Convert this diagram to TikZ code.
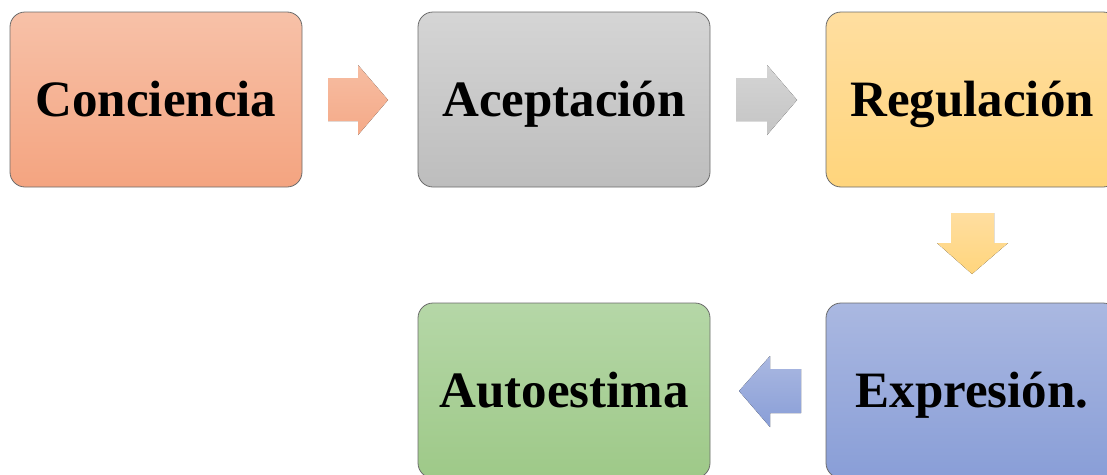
\documentclass[tikz,border=0pt]{standalone}
\usepackage{fontspec}
\setmainfont{Liberation Serif}
\begin{document}
\begin{tikzpicture}[x=1pt,y=-1pt,
  stagebox/.style={draw=black!58, line width=0.8pt, rounded corners=15pt,
    minimum width=292pt, minimum height=175pt, inner sep=0pt,
    text height=40pt, text depth=7pt,
    font=\fontsize{51}{58}\selectfont\bfseries, text=black},
  blockarrow/.style={draw=none}
]
\definecolor{c1t}{HTML}{F7C1A8}\definecolor{c1b}{HTML}{F4A480}
\definecolor{c2t}{HTML}{D5D5D5}\definecolor{c2b}{HTML}{BDBDBD}
\definecolor{c3t}{HTML}{FFDEA0}\definecolor{c3b}{HTML}{FFD57C}
\definecolor{c4t}{HTML}{AAB8E1}\definecolor{c4b}{HTML}{899ED7}
\definecolor{c5t}{HTML}{B5D7A7}\definecolor{c5b}{HTML}{9EC988}
\useasboundingbox (0,0) rectangle (1107,474);
\node[stagebox, top color=c1t, bottom color=c1b] (conc) at (156,99.5) {Conciencia};
\node[stagebox, top color=c2t, bottom color=c2b] (acep) at (564,99.5) {Aceptación};
\node[stagebox, top color=c3t, bottom color=c3b] (regu) at (972,99.5) {Regulación};
\node[stagebox, top color=c4t, bottom color=c4b] (expr) at (972,390.5) {Expresión.};
\node[stagebox, top color=c5t, bottom color=c5b] (auto) at (564,390.5) {Autoestima};
% block arrows
\fill[blockarrow, top color=c1t!85!c1b, bottom color=c1b!80!c1t]
  (328,78) -- (358,78) -- (358,65) -- (388,100) -- (358,135) -- (358,121) -- (328,121) -- cycle;
\fill[blockarrow, top color=c2t, bottom color=c2b!70!c2t]
  (736,78) -- (767,78) -- (767,65) -- (797,100) -- (767,135) -- (767,121) -- (736,121) -- cycle;
\fill[blockarrow, top color=c3t, bottom color=c3b]
  (951,213) -- (994,213) -- (994,243) -- (1008,243) -- (972,274) -- (937,243) -- (951,243) -- cycle;
\fill[blockarrow, top color=c4t, bottom color=c4b]
  (801,369) -- (770,369) -- (770,356) -- (739,391) -- (770,427) -- (770,413) -- (801,413) -- cycle;
\end{tikzpicture}
\end{document}
